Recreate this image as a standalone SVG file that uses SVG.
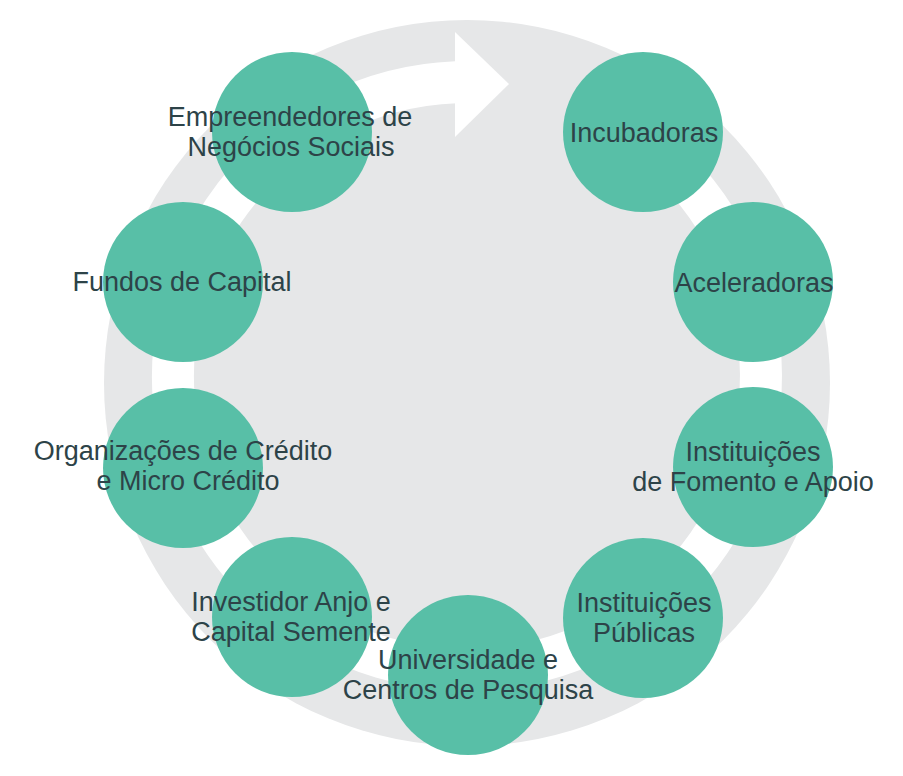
<svg xmlns="http://www.w3.org/2000/svg" width="903" height="776" viewBox="0 0 903 776">
<style>
.bg{fill:#E6E7E8}
.node{fill:#58BFA7}
.lbl{font-family:"Liberation Sans",Arial,sans-serif;font-size:27px;fill:#2D4348;text-anchor:middle}
.band{fill:none;stroke:#FFFFFF;stroke-width:42}
</style>
<rect width="903" height="776" fill="#FFFFFF"/>
<circle class="bg" cx="467" cy="383" r="363"/>
<g id="connectors">
<path class="band" d="M 639 137.6 A 294 294 0 1 1 456 82.2"/>
<polygon points="455,32 509,84 455,137" fill="#FFFFFF"/>
</g>
<g id="node-empreendedores"><circle class="node" cx="292" cy="132" r="80"/><text class="lbl" x="290" y="126">Empreendedores de</text><text class="lbl" x="291" y="156">Negócios Sociais</text></g>
<g id="node-incubadoras"><circle class="node" cx="643" cy="132" r="80"/><text class="lbl" x="644" y="142">Incubadoras</text></g>
<g id="node-aceleradoras"><circle class="node" cx="753" cy="282" r="80"/><text class="lbl" x="754" y="292">Aceleradoras</text></g>
<g id="node-fomento"><circle class="node" cx="753" cy="467" r="80"/><text class="lbl" x="753" y="461">Instituições</text><text class="lbl" x="753" y="491">de Fomento e Apoio</text></g>
<g id="node-publicas"><circle class="node" cx="643" cy="618" r="80"/><text class="lbl" x="644" y="612">Instituições</text><text class="lbl" x="644" y="642">Públicas</text></g>
<g id="node-universidade"><circle class="node" cx="468" cy="675" r="80"/><text class="lbl" x="468" y="669">Universidade e</text><text class="lbl" x="468" y="699">Centros de Pesquisa</text></g>
<g id="node-investidor"><circle class="node" cx="292" cy="617" r="80"/><text class="lbl" x="291" y="611">Investidor Anjo e</text><text class="lbl" x="291" y="641">Capital Semente</text></g>
<g id="node-credito"><circle class="node" cx="183" cy="468" r="80"/><text class="lbl" x="183" y="460">Organizações de Crédito</text><text class="lbl" x="188" y="490">e Micro Crédito</text></g>
<g id="node-fundos"><circle class="node" cx="183" cy="282" r="80"/><text class="lbl" x="182" y="291">Fundos de Capital</text></g>
</svg>
